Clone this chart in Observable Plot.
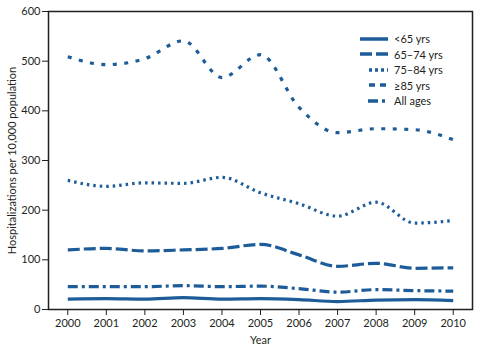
<!DOCTYPE html>
<html>
<head>
<meta charset="utf-8">
<script src="https://cdn.jsdelivr.net/npm/d3@7"></script>
<script src="https://cdn.jsdelivr.net/npm/@observablehq/plot@0.6"></script>
<style>
  html, body { margin: 0; padding: 0; background: #fff; }
  #wrap { position: relative; width: 495px; height: 351px; font-family: Lato, "Open Sans", sans-serif; color: #231f20; }
  #legend { position: absolute; left: 358px; top: 31px; font-size: 11px; line-height: 15.5px; }
  #legend .row { display: flex; align-items: center; height: 15.5px; }
  #legend svg { width: 32px; height: 8px; margin-right: 4px; }
</style>
</head>
<body>
<div id="wrap"></div>
<script>
const years = [2000, 2001, 2002, 2003, 2004, 2005, 2006, 2007, 2008, 2009, 2010];
const under65 = [21, 22, 21, 24, 21, 22, 20, 16, 19, 20, 18];
const age65to74 = [120, 123, 118, 120, 123, 131, 110, 87, 93, 83, 84];
const age75to84 = [260, 248, 255, 254, 266, 235, 213, 188, 216, 174, 179];
const age85plus = [509, 493, 505, 541, 467, 513, 407, 356, 364, 362, 342];
const allAges = [46, 46, 46, 48, 46, 47, 42, 35, 40, 38, 37];
const seriesNames = ["<65 yrs", "65–74 yrs", "75–84 yrs", "≥85 yrs", "All ages"];
const seriesValues = [under65, age65to74, age75to84, age85plus, allAges];
const yTicks = [0, 100, 200, 300, 400, 500, 600];

const color = "#1d5c99";
const dashes = ["none", "12,4", "2.5,4", "4,7.5", "10,4,3,4"];

const lineMarks = seriesNames.map((name, i) => {
  const rows = years.map((y, j) => ({year: y, value: seriesValues[i][j]}));
  return Plot.line(rows, {
    x: "year", y: "value", stroke: color, strokeWidth: 3.2,
    strokeDasharray: dashes[i], strokeLinecap: "butt", curve: "monotone-x"
  });
});

const chart = Plot.plot({
  width: 495,
  height: 351,
  marginLeft: 48,
  marginRight: 23,
  marginTop: 11,
  marginBottom: 42,
  style: {fontFamily: "Lato, 'Open Sans', sans-serif", fontSize: "11px", color: "#231f20", background: "#fff"},
  x: {domain: [1999.5, 2010.5]},
  y: {domain: [0, 600]},
  marks: [
    ...lineMarks,
    Plot.axisX({ticks: years, tickFormat: d => String(d), tickSize: 6, tickPadding: 4,
      label: "Year", labelAnchor: "center", labelArrow: "none", labelOffset: 34, stroke: "#231f20"}),
    Plot.axisY({ticks: yTicks, tickSize: 6, tickPadding: 2,
      label: "Hospitalizations per 10,000 population", labelAnchor: "center", labelArrow: "none", labelOffset: 40, stroke: "#231f20"}),
    Plot.frame({stroke: "#231f20", strokeWidth: 1.5})
  ]
});

const wrap = document.getElementById("wrap");
wrap.appendChild(chart);

const legend = document.createElement("div");
legend.id = "legend";
const legendStarts = [2, 2, 11, 11, 10];
seriesNames.forEach((name, i) => {
  const row = document.createElement("div");
  row.className = "row";
  row.innerHTML = `<svg viewBox="0 0 32 8"><line x1="${legendStarts[i]}" y1="4" x2="30" y2="4" stroke="${color}" stroke-width="3.5" stroke-dasharray="${dashes[i] === 'none' ? '' : (i === 3 ? '6,5' : (i === 2 ? '3,3' : dashes[i]))}"/></svg><span>${name.replace('<', '&lt;')}</span>`;
  legend.appendChild(row);
});
wrap.appendChild(legend);
</script>
</body>
</html>
